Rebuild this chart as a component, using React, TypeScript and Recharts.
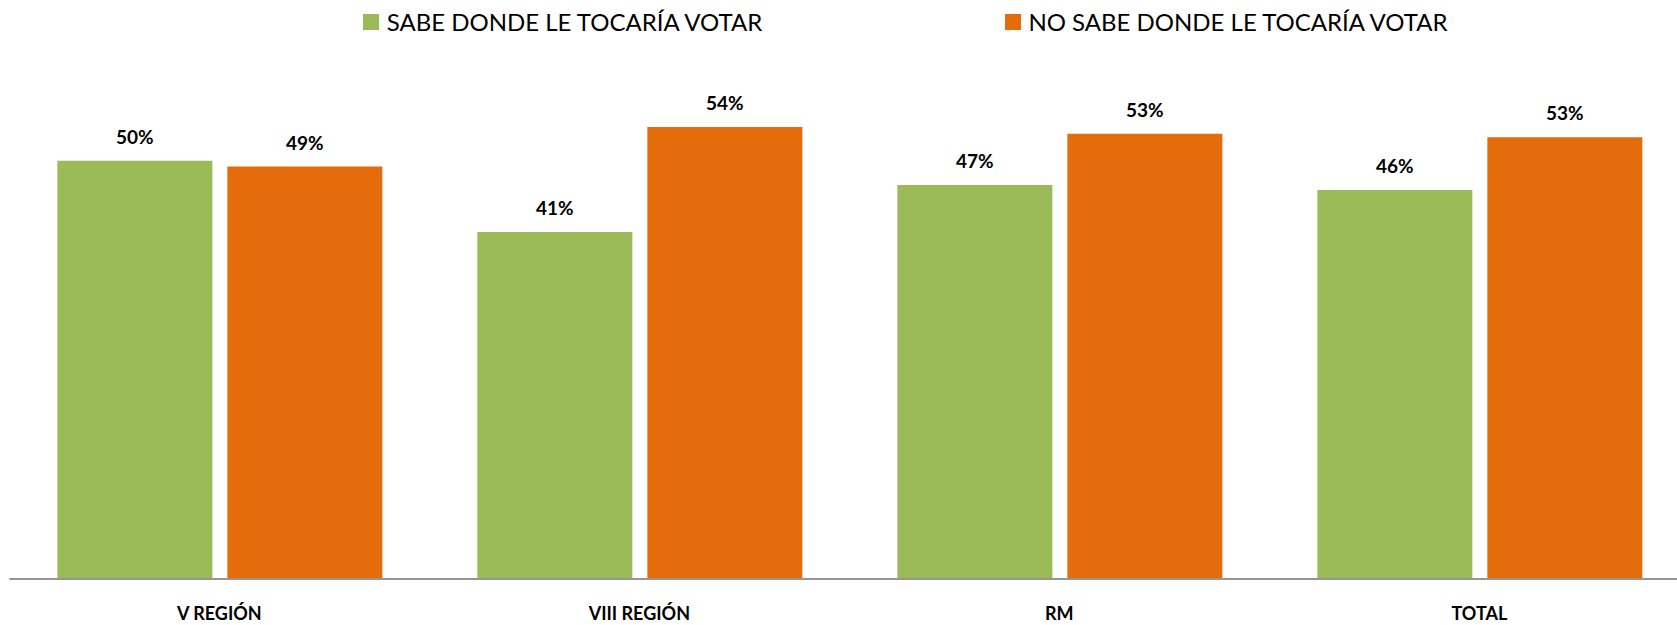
import React from 'react';
import { BarChart, Bar, XAxis, YAxis, LabelList, Legend } from 'recharts';

const categories = ['V REGIÓN', 'VIII REGIÓN', 'RM', 'TOTAL'];
const sabeValues = [49.8, 41.3, 46.9, 46.3];
const noSabeValues = [49.1, 53.8, 53.0, 52.6];
const seriesNames = ['SABE DONDE LE TOCARÍA VOTAR', 'NO SABE DONDE LE TOCARÍA VOTAR'];
const seriesColors = ['#9BBB59', '#E46C0A'];

const data = categories.map((c, i) => ({
  name: c,
  sabe: sabeValues[i],
  noSabe: noSabeValues[i],
}));

const fmt = (v: any) => `${Math.round(Number(v))}%`;

const LegendContent = () => {
  return (
    <div style={{ display: 'flex', fontFamily: 'Lato', fontSize: 24, color: '#000', lineHeight: 1.2 }}>
      {seriesNames.map((name, i) => (
        <div
          key={i}
          style={{ display: 'flex', alignItems: 'center', width: i === 0 ? 641.7 : 'auto', whiteSpace: 'nowrap' }}
        >
          <span style={{ display: 'inline-block', width: 16, height: 16, background: seriesColors[i], marginRight: 7.4 }} />
          <span>{name}</span>
        </div>
      ))}
    </div>
  );
};

export default function App() {
  return (
    <div style={{ position: 'absolute', left: 8, top: 8, width: 1669, height: 617, overflow: 'hidden', background: '#fff' }}>
      <BarChart
        width={1683}
        height={617}
        data={data}
        margin={{ top: 67, right: 1.65, bottom: 0, left: 1.35 }}
        barSize={155}
        barGap={15}
      >
        <XAxis
          dataKey="name"
          axisLine={{ stroke: '#969696', strokeWidth: 2 }}
          tickLine={false}
          tickSize={0}
          tickMargin={28}
          interval={0}
          height={46}
          tick={{ fill: '#000', fontSize: 18, fontWeight: 700, fontFamily: 'Lato' }}
        />
        <YAxis hide domain={[0, 60]} />
        <Legend
          layout="horizontal"
          verticalAlign="middle"
          align="center"
          content={<LegendContent />}
          wrapperStyle={{ position: 'absolute', top: 0, left: 355.3, width: 'auto' }}
        />
        <Bar dataKey="sabe" name={seriesNames[0]} fill={seriesColors[0]} isAnimationActive={false}>
          <LabelList
            dataKey="sabe"
            position="top"
            offset={17}
            formatter={fmt}
            style={{ fill: '#000', fontSize: 19, fontWeight: 700, fontFamily: 'Lato' }}
          />
        </Bar>
        <Bar dataKey="noSabe" name={seriesNames[1]} fill={seriesColors[1]} isAnimationActive={false}>
          <LabelList
            dataKey="noSabe"
            position="top"
            offset={17}
            formatter={fmt}
            style={{ fill: '#000', fontSize: 19, fontWeight: 700, fontFamily: 'Lato' }}
          />
        </Bar>
      </BarChart>
    </div>
  );
}
